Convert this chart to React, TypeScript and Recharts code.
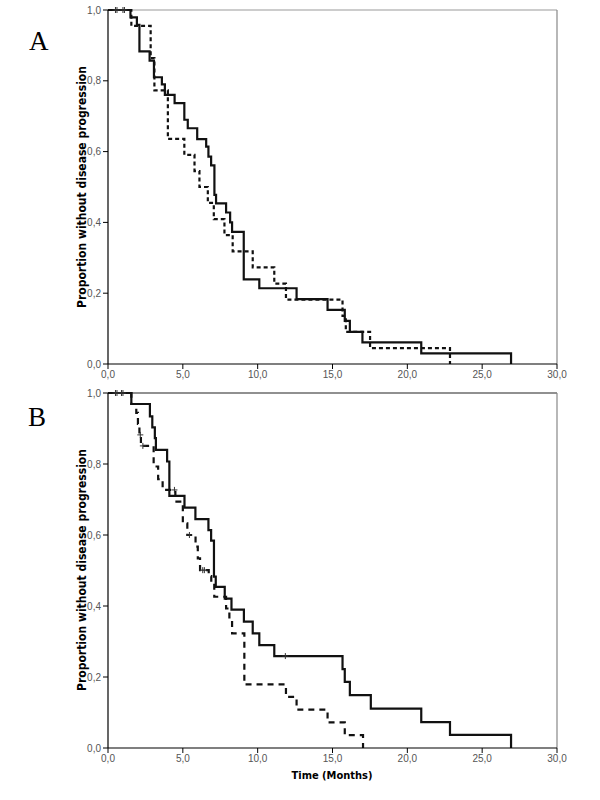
import React from 'react';
import { ComposedChart, Line, Scatter, XAxis, YAxis, ReferenceLine } from 'recharts';

const xTicks = [0, 5, 10, 15, 20, 25, 30];
const yTicks = [0, 0.2, 0.4, 0.6, 0.8, 1.0];

const solidA_t = [0, 1.5, 1.93, 2.1, 2.78, 3.07, 3.6, 3.8, 4.45, 5.1, 5.33, 5.96, 6.56, 6.71, 6.89, 7.11, 7.22, 7.89, 8.16, 8.29, 9.07, 10.11, 12.6, 14.67, 15.82, 16.16, 17.0, 20.93, 26.93];
const solidA_v = [1, 0.979, 0.958, 0.883, 0.857, 0.81, 0.79, 0.76, 0.737, 0.69, 0.666, 0.635, 0.614, 0.586, 0.561, 0.478, 0.454, 0.428, 0.4, 0.373, 0.239, 0.214, 0.183, 0.153, 0.122, 0.091, 0.061, 0.03, 0];

const dashedA_t = [0, 1.56, 2.85, 3.1, 4.0, 5.1, 5.78, 6.11, 6.67, 7.07, 7.78, 8.33, 9.67, 11.11, 11.89, 15.67, 15.89, 17.51, 22.85];
const dashedA_v = [1, 0.955, 0.864, 0.773, 0.636, 0.591, 0.545, 0.5, 0.455, 0.409, 0.364, 0.318, 0.273, 0.227, 0.182, 0.136, 0.091, 0.045, 0];

const solidB_t = [0, 1.56, 2.8, 2.96, 3.13, 3.2, 3.95, 4.1, 5.11, 5.84, 6.71, 6.89, 7.08, 7.2, 7.8, 8.25, 9.08, 9.67, 10.11, 11.11, 15.67, 15.82, 16.16, 17.56, 20.93, 22.85, 26.93];
const solidB_v = [1, 0.969, 0.934, 0.903, 0.873, 0.84, 0.807, 0.71, 0.677, 0.645, 0.614, 0.584, 0.483, 0.454, 0.421, 0.39, 0.356, 0.323, 0.29, 0.259, 0.222, 0.186, 0.149, 0.111, 0.073, 0.037, 0];

const dashedB_t = [0, 1.56, 1.89, 2.0, 2.1, 2.2, 3.05, 3.35, 3.65, 4.5, 5.0, 5.3, 5.85, 6.0, 6.15, 6.73, 6.9, 7.1, 7.89, 8.11, 8.29, 9.11, 11.89, 12.6, 14.67, 15.82, 17.04];
const dashedB_v = [1, 0.969, 0.944, 0.913, 0.882, 0.851, 0.793, 0.757, 0.727, 0.694, 0.633, 0.6, 0.567, 0.534, 0.501, 0.484, 0.464, 0.426, 0.393, 0.36, 0.323, 0.179, 0.144, 0.108, 0.072, 0.036, 0];

const censorSolidA_t = [0.5, 1.0];
const censorSolidA_v = [1, 1];
const censorDashedA_t = [0.6, 1.1];
const censorDashedA_v = [1, 1];
const censorSolidB_t = [0.6, 1.0, 11.85];
const censorSolidB_v = [1, 1, 0.259];
const censorDashedB_t = [0.5, 0.9, 2.16, 2.33, 4.44, 5.44, 6.33, 6.44];
const censorDashedB_v = [1, 1, 0.882, 0.851, 0.727, 0.6, 0.501, 0.501];

const yLabel = 'Proportion without disease progression';
const xLabel = 'Time (Months)';

const zip = (t: number[], v: number[]) => t.map((x, i) => ({ t: x, v: v[i] }));
const fmt = (v: number) => v.toFixed(1).replace('.', ',');

const Plus = (p: any) => {
  const { cx, cy } = p;
  if (cx == null || cy == null) return null;
  return (
    <g>
      <line x1={cx} x2={cx} y1={cy - 3} y2={cy + 3} stroke="#333" strokeWidth={1} />
      <line x1={cx - 3} x2={cx + 3} y1={cy} y2={cy} stroke="#333" strokeWidth={1} />
    </g>
  );
};

const tickStyle = { fontSize: 10, fill: '#555', fontFamily: 'Liberation Sans, Arial, sans-serif' };

function Panel(props: {
  height: number; marginTop: number; marginBottom: number;
  solid: any[]; dashed: any[]; cSolid: any[]; cDashed: any[];
  topColor: string; dash: string;
}) {
  const { height, marginTop, marginBottom, solid, dashed, cSolid, cDashed, topColor, dash } = props;
  return (
    <ComposedChart width={600} height={height} margin={{ top: marginTop, right: 43, bottom: marginBottom, left: 0 }}>
      <XAxis type="number" dataKey="t" domain={[0, 30]} ticks={xTicks} tickFormatter={fmt}
        height={21} tickSize={5} tick={tickStyle} axisLine={{ stroke: '#000', strokeWidth: 1.2 }} tickLine={{ stroke: '#000' }} interval={0} />
      <YAxis type="number" dataKey="v" domain={[0, 1]} ticks={yTicks} tickFormatter={fmt}
        width={108} tickSize={5} tick={tickStyle} axisLine={{ stroke: '#000', strokeWidth: 1.2 }} tickLine={{ stroke: '#000' }} interval={0} />
      <ReferenceLine y={1} stroke={topColor} strokeWidth={1.2} />
      <ReferenceLine x={30} stroke="#888" strokeWidth={1.2} />
      <Line data={dashed} dataKey="v" type="stepAfter" stroke="#111" strokeWidth={2.2} strokeDasharray={dash} dot={false} isAnimationActive={false} />
      <Line data={solid} dataKey="v" type="stepAfter" stroke="#111" strokeWidth={2.2} dot={false} isAnimationActive={false} />
      <Scatter data={cSolid} dataKey="v" shape={(p: any) => <Plus {...p} />} isAnimationActive={false} />
      <Scatter data={cDashed} dataKey="v" shape={(p: any) => <Plus {...p} />} isAnimationActive={false} />
    </ComposedChart>
  );
}

const labelFont = '"DejaVu Sans Condensed", "DejaVu Sans", sans-serif';

export default function App() {
  return (
    <div style={{ position: 'absolute', left: 0, top: 0, width: 600, height: 800, background: '#fff' }}>
      <div style={{ position: 'absolute', left: 0, top: 0 }}>
        <Panel height={385} marginTop={10} marginBottom={0}
          solid={zip(solidA_t, solidA_v)} dashed={zip(dashedA_t, dashedA_v)}
          cSolid={zip(censorSolidA_t, censorSolidA_v)} cDashed={zip(censorDashedA_t, censorDashedA_v)}
          topColor="#999" dash="4 3" />
      </div>
      <div style={{ position: 'absolute', left: 0, top: 385 }}>
        <Panel height={400} marginTop={8} marginBottom={16}
          solid={zip(solidB_t, solidB_v)} dashed={zip(dashedB_t, dashedB_v)}
          cSolid={zip(censorSolidB_t, censorSolidB_v)} cDashed={zip(censorDashedB_t, censorDashedB_v)}
          topColor="#222" dash="6 5" />
      </div>
      {[187, 570].map((cy) => (
        <div key={cy} style={{
          position: 'absolute', left: 82, top: cy, transform: 'translate(-50%, -50%) rotate(-90deg)',
          whiteSpace: 'nowrap', fontFamily: labelFont, fontWeight: 'bold', fontSize: 12, color: '#000',
        }}>{yLabel}</div>
      ))}
      <div style={{
        position: 'absolute', left: 332, top: 775, transform: 'translate(-50%, -50%)',
        whiteSpace: 'nowrap', fontFamily: labelFont, fontWeight: 'bold', fontSize: 11, color: '#000',
      }}>{xLabel}</div>
      <div style={{ position: 'absolute', left: 29, top: 28, fontFamily: '"Liberation Serif", serif', fontSize: 27, lineHeight: 1 }}>A</div>
      <div style={{ position: 'absolute', left: 28, top: 404, fontFamily: '"Liberation Serif", serif', fontSize: 27, lineHeight: 1 }}>B</div>
    </div>
  );
}
